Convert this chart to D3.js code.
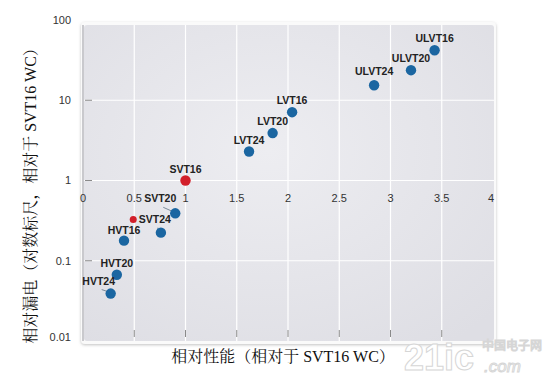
<!DOCTYPE html>
<html>
<head>
<meta charset="utf-8">
<script src="https://cdn.jsdelivr.net/npm/d3@7"></script>
<style>
  body { margin: 0; background: #fff; }
  svg { display: block; }
</style>
</head>
<body>
<svg id="chart"></svg>
<script>
// data
let names   = ["SVT16", "LVT24", "LVT20", "LVT16", "ULVT24", "ULVT20", "ULVT16", "SVT20", "SVT24", "HVT16", "HVT20", "HVT24", ""];
let perf    = [1.0, 1.62, 1.85, 2.04, 2.84, 3.2, 3.43, 0.9, 0.76, 0.4, 0.33, 0.27, 0.49];
let leakage = [1.0, 2.3, 3.9, 7.1, 15.4, 23.7, 42, 0.39, 0.224, 0.178, 0.067, 0.039, 0.326];
let kind    = ["ref", "std", "std", "std", "std", "std", "std", "std", "std", "std", "std", "std", "small"];

let xTicks = [0, 0.5, 1, 1.5, 2, 2.5, 3, 3.5, 4];
let yTicks = [0.01, 0.1, 1, 10, 100];

// label offsets (label anchor relative to the dot), leader line for some
let labelDx = [0, 0, 0, 0, 0, 0, 0, -15, -6, 0, 0, -12, 0];
let labelDy = [-8, -7, -8, -8, -10, -8, -8, -11, -10, -7, -8, -9, 0];
let leader  = [false, false, false, false, false, false, false, true, true, false, false, true, false];

function drawChart() {
    let W = 550, H = 380;
    let plot = {left: 82, right: 495, top: 23, bottom: 343};

    let svg = d3.select("#chart")
        .attr("width", W)
        .attr("height", H);

    let x = d3.scaleLinear().domain([0, 4]).range([83, 493]);
    let y = d3.scaleLog().domain([0.01, 100]).range([341, 20]);

    let defs = svg.append("defs");
    let grad = defs.append("radialGradient")
        .attr("id", "bg")
        .attr("cx", "45%").attr("cy", "40%").attr("r", "75%");
    grad.append("stop").attr("offset", "0%").attr("stop-color", "#ededf1");
    grad.append("stop").attr("offset", "100%").attr("stop-color", "#dedee4");

    let shadow = defs.append("filter").attr("id", "shadow")
        .attr("x", "-5%").attr("y", "-5%").attr("width", "110%").attr("height", "110%");
    shadow.append("feDropShadow")
        .attr("dx", 0).attr("dy", 1).attr("stdDeviation", 1.5)
        .attr("flood-color", "#999").attr("flood-opacity", 0.6);

    // plot panel
    svg.append("rect")
        .attr("x", plot.left - 1).attr("y", plot.top - 1)
        .attr("width", plot.right - plot.left + 2).attr("height", plot.bottom - plot.top + 2)
        .attr("rx", 4)
        .style("fill", "#fafafa")
        .attr("filter", "url(#shadow)");
    svg.append("rect")
        .attr("x", plot.left + 2).attr("y", plot.top + 2)
        .attr("width", plot.right - plot.left - 3).attr("height", plot.bottom - plot.top - 4)
        .attr("rx", 3)
        .style("fill", "url(#bg)");
    svg.append("rect")
        .attr("x", plot.left).attr("y", plot.top + 2)
        .attr("width", 2).attr("height", plot.bottom - plot.top - 4)
        .style("fill", "#c9c9cd");

    // grid
    svg.append("g")
        .selectAll("line")
        .data(xTicks.filter(d => d > 0 && d < 4))
        .enter()
        .append("line")
        .attr("x1", d => x(d)).attr("x2", d => x(d))
        .attr("y1", plot.top + 2).attr("y2", plot.bottom - 2)
        .style("stroke", "#fff").style("stroke-width", 1.2);

    svg.append("g")
        .selectAll("line")
        .data(yTicks.filter(d => d > 0.01 && d < 100))
        .enter()
        .append("line")
        .attr("x1", plot.left + 2).attr("x2", plot.right - 1)
        .attr("y1", d => y(d)).attr("y2", d => y(d))
        .style("stroke", "#fff").style("stroke-width", 1.2);

    // small tick marks
    svg.append("g")
        .selectAll("line")
        .data(yTicks.filter(d => d > 0.01 && d < 100))
        .enter()
        .append("line")
        .attr("x1", 85).attr("x2", 92)
        .attr("y1", d => y(d)).attr("y2", d => y(d))
        .style("stroke", "#8a8a8a").style("stroke-width", 1);

    svg.append("g")
        .selectAll("line")
        .data(xTicks.filter(d => d > 0 && d < 4))
        .enter()
        .append("line")
        .attr("x1", d => x(d)).attr("x2", d => x(d))
        .attr("y1", 330).attr("y2", 337)
        .style("stroke", "#8a8a8a").style("stroke-width", 1);

    // tick labels
    svg.append("g")
        .selectAll("text")
        .data(yTicks)
        .enter()
        .append("text")
        .attr("x", 71)
        .attr("y", d => d == 0.01 ? y(d) - 4 : y(d))
        .attr("dy", "0.35em")
        .style("text-anchor", "end")
        .style("font-family", "Liberation Sans, Arial, sans-serif")
        .style("font-size", "11px")
        .style("fill", "#333")
        .text(d => d);

    svg.append("g")
        .selectAll("text")
        .data(xTicks)
        .enter()
        .append("text")
        .attr("x", d => x(d) + (d == 4 ? -2 : 0))
        .attr("y", 202)
        .style("text-anchor", "middle")
        .style("font-family", "Liberation Sans, Arial, sans-serif")
        .style("font-size", "11px")
        .style("fill", "#333")
        .text(d => d);

    // points
    let pts = perf.map((p, i) => ({name: names[i], x: p, y: leakage[i], kind: kind[i],
        dx: labelDx[i], dy: labelDy[i], leader: leader[i]}));

    svg.append("g")
        .selectAll("line")
        .data(pts.filter(d => d.leader))
        .enter()
        .append("line")
        .attr("x1", d => x(d.x) + d.dx + 3).attr("y1", d => y(d.y) + d.dy + 5)
        .attr("x2", d => x(d.x) - 3).attr("y2", d => y(d.y) - 2)
        .style("stroke", "#7a8a99").style("stroke-width", 1);

    svg.append("g")
        .selectAll("circle")
        .data(pts)
        .enter()
        .append("circle")
        .attr("cx", d => x(d.x))
        .attr("cy", d => y(d.y))
        .attr("r", d => d.kind == "small" ? 3.5 : 5.2)
        .style("fill", d => d.kind == "std" ? "#1b66a1" : "#d21f2a");

    svg.append("g")
        .selectAll("text")
        .data(pts.filter(d => d.name))
        .enter()
        .append("text")
        .attr("x", d => x(d.x) + d.dx)
        .attr("y", d => y(d.y) + d.dy)
        .style("text-anchor", "middle")
        .style("font-family", "Liberation Sans, Arial, sans-serif")
        .style("font-size", "10.5px")
        .style("font-weight", "bold")
        .style("fill", "#222")
        .text(d => d.name);

    // axis titles
    let titleFont = "'Liberation Serif', 'Noto Serif CJK SC', 'Noto Sans CJK SC', serif";
    svg.append("text")
        .attr("x", 283)
        .attr("y", 362)
        .style("text-anchor", "middle")
        .style("font-family", titleFont)
        .style("font-size", "16px")
        .style("fill", "#111")
        .text("相对性能（相对于 SVT16 WC）");

    svg.append("text")
        .attr("transform", "translate(36,192) rotate(-90)")
        .style("text-anchor", "middle")
        .style("font-family", titleFont)
        .style("font-size", "16px")
        .style("fill", "#111")
        .text("相对漏电（对数标尺，相对于 SVT16 WC）");

    // watermark
    let wm = svg.append("g").style("fill", "#fff").style("stroke", "#d6d6d6").style("stroke-width", 1);
    wm.append("text").attr("x", 404).attr("y", 370)
        .style("font-family", "Liberation Sans, sans-serif").style("font-size", "36px")
        .style("font-weight", "bold").text("21ic");
    wm.append("text").attr("x", 482).attr("y", 350)
        .style("font-family", "'Noto Sans CJK SC', sans-serif").style("font-size", "12px")
        .text("中国电子网");
    wm.append("text").attr("x", 484).attr("y", 372)
        .style("font-family", "Liberation Sans, sans-serif").style("font-size", "17px")
        .style("font-style", "italic").text(".com");
}

drawChart();
</script>
</body>
</html>
